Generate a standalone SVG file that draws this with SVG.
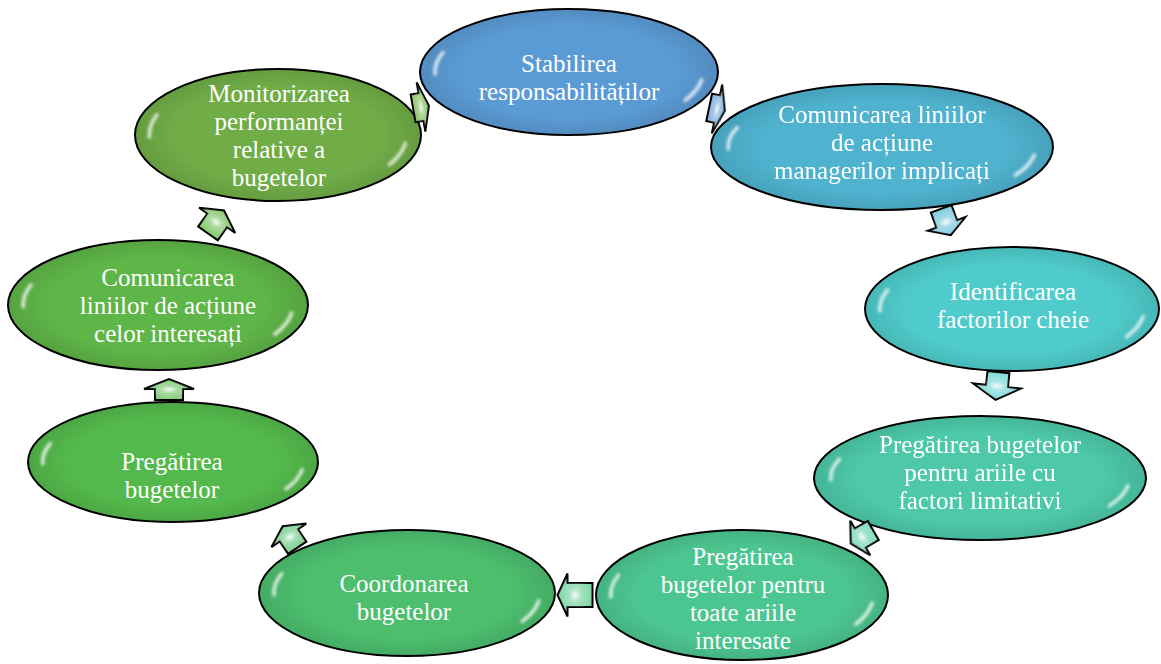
<svg xmlns="http://www.w3.org/2000/svg" width="1161" height="664" viewBox="0 0 1161 664">
<defs>
<style>
.ell{stroke:#000;stroke-width:2}
.shade{fill:url(#shade)}
.hl{fill:none;stroke:#fff;stroke-width:3.5;stroke-linecap:round;opacity:0.8}
.txt{font-family:"Liberation Serif","Times New Roman",serif;font-size:25px;fill:#fff;text-anchor:middle}
.arr{stroke:#000;stroke-width:2;stroke-linejoin:miter}
.arrhl{fill:url(#arrglow);stroke:none}
</style>
<radialGradient id="shade" cx="0.5" cy="0.5" r="0.5">
<stop offset="0.72" stop-color="#000" stop-opacity="0"/>
<stop offset="1" stop-color="#000" stop-opacity="0.1"/>
</radialGradient>
<radialGradient id="arrglow" cx="0.5" cy="0.5" r="0.5">
<stop offset="0" stop-color="#fff" stop-opacity="0.9"/>
<stop offset="0.35" stop-color="#fff" stop-opacity="0.3"/>
<stop offset="1" stop-color="#fff" stop-opacity="0"/>
</radialGradient>
<filter id="blur" x="-20%" y="-20%" width="140%" height="140%"><feGaussianBlur stdDeviation="1.4"/></filter>
<g id="hls">
<path class="hl" vector-effect="non-scaling-stroke" d="M -0.899 0.031 A 0.9 0.9 0 0 1 -0.846 -0.308"/>
<path class="hl" vector-effect="non-scaling-stroke" d="M 0.891 0.125 A 0.9 0.9 0 0 1 0.779 0.450"/>
</g>
</defs>
<rect width="1161" height="664" fill="#fff"/>

<g id="node1" transform="translate(569,72)">
<ellipse class="ell" rx="149" ry="63" fill="#5B9BD5"/>
<ellipse class="shade" rx="149" ry="63"/>
<g filter="url(#blur)"><use href="#hls" transform="scale(149,63)"/></g>
</g>
<text class="txt" x="569" y="72">Stabilirea</text>
<text class="txt" x="569" y="100">responsabilităților</text>

<g id="node2" transform="translate(882,147)">
<ellipse class="ell" rx="171" ry="63" fill="#4FB3CF"/>
<ellipse class="shade" rx="171" ry="63"/>
<g filter="url(#blur)"><use href="#hls" transform="scale(171,63)"/></g>
</g>
<text class="txt" x="882" y="123">Comunicarea liniilor</text>
<text class="txt" x="882" y="151">de acțiune</text>
<text class="txt" x="882" y="179">managerilor implicați</text>

<g id="node3" transform="translate(1012,309)">
<ellipse class="ell" rx="147" ry="62" fill="#4FCBCB"/>
<ellipse class="shade" rx="147" ry="62"/>
<g filter="url(#blur)"><use href="#hls" transform="scale(147,62)"/></g>
</g>
<text class="txt" x="1013" y="300">Identificarea</text>
<text class="txt" x="1013" y="328">factorilor cheie</text>

<g id="node4" transform="translate(980,478)">
<ellipse class="ell" rx="166" ry="62" fill="#4DC9A9"/>
<ellipse class="shade" rx="166" ry="62"/>
<g filter="url(#blur)"><use href="#hls" transform="scale(166,62)"/></g>
</g>
<text class="txt" x="980" y="453">Pregătirea bugetelor</text>
<text class="txt" x="980" y="481">pentru ariile cu</text>
<text class="txt" x="980" y="509">factori limitativi</text>

<g id="node5" transform="translate(742,595)">
<ellipse class="ell" rx="146" ry="65" fill="#4CC690"/>
<ellipse class="shade" rx="146" ry="65"/>
<g filter="url(#blur)"><use href="#hls" transform="scale(146,65)"/></g>
</g>
<text class="txt" x="743" y="565">Pregătirea</text>
<text class="txt" x="743" y="593">bugetelor pentru</text>
<text class="txt" x="743" y="621">toate ariile</text>
<text class="txt" x="743" y="649">interesate</text>

<g id="node6" transform="translate(407,593)">
<ellipse class="ell" rx="148" ry="63" fill="#4CBE6E"/>
<ellipse class="shade" rx="148" ry="63"/>
<g filter="url(#blur)"><use href="#hls" transform="scale(148,63)"/></g>
</g>
<text class="txt" x="404" y="592">Coordonarea</text>
<text class="txt" x="404" y="620">bugetelor</text>

<g id="node7" transform="translate(173,462)">
<ellipse class="ell" rx="145" ry="60" fill="#54B94C"/>
<ellipse class="shade" rx="145" ry="60"/>
<g filter="url(#blur)"><use href="#hls" transform="scale(145,60)"/></g>
</g>
<text class="txt" x="172" y="470">Pregătirea</text>
<text class="txt" x="172" y="498">bugetelor</text>

<g id="node8" transform="translate(158,305)">
<ellipse class="ell" rx="150" ry="65" fill="#5EB548"/>
<ellipse class="shade" rx="150" ry="65"/>
<g filter="url(#blur)"><use href="#hls" transform="scale(150,65)"/></g>
</g>
<text class="txt" x="168" y="286">Comunicarea</text>
<text class="txt" x="168" y="314">liniilor de acțiune</text>
<text class="txt" x="168" y="342">celor interesați</text>

<g id="node9" transform="translate(278,135)">
<ellipse class="ell" rx="143" ry="66" fill="#70AD47"/>
<ellipse class="shade" rx="143" ry="66"/>
<g filter="url(#blur)"><use href="#hls" transform="scale(143,66)"/></g>
</g>
<text class="txt" x="279" y="102">Monitorizarea</text>
<text class="txt" x="279" y="130">performanței</text>
<text class="txt" x="279" y="158">relative a</text>
<text class="txt" x="279" y="186">bugetelor</text>

<g id="connectors">
<g transform="translate(421,107) rotate(-10)">
<path class="arr" fill="#8DC46B" d="M-8,-14 L0,-14 L0,-25 L8,0 L0,25 L0,14 L-8,14 Z"/>
<path class="arrhl" d="M-8,-14 L0,-14 L0,-25 L8,0 L0,25 L0,14 L-8,14 Z"/>
</g>
<g transform="translate(717,109) rotate(12)">
<path class="arr" fill="#84B3E0" d="M-8,-14 L0,-14 L0,-25 L8,0 L0,25 L0,14 L-8,14 Z"/>
<path class="arrhl" d="M-8,-14 L0,-14 L0,-25 L8,0 L0,25 L0,14 L-8,14 Z"/>
</g>
<g transform="translate(946,222) rotate(70)">
<path class="arr" fill="#80CCE0" d="M-14,-11 L2,-11 L2,-20 L14,0 L2,20 L2,11 L-14,11 Z"/>
<path class="arrhl" d="M-14,-11 L2,-11 L2,-20 L14,0 L2,20 L2,11 L-14,11 Z"/>
</g>
<g transform="translate(997,386) rotate(96)">
<path class="arr" fill="#80DADA" d="M-14,-11 L0,-11 L0,-24 L14,0 L0,24 L0,11 L-14,11 Z"/>
<path class="arrhl" d="M-14,-11 L0,-11 L0,-24 L14,0 L0,24 L0,11 L-14,11 Z"/>
</g>
<g transform="translate(862,537) rotate(150)">
<path class="arr" fill="#7FD8BE" d="M-13,-11 L2,-11 L2,-20 L13,0 L2,20 L2,11 L-13,11 Z"/>
<path class="arrhl" d="M-13,-11 L2,-11 L2,-20 L13,0 L2,20 L2,11 L-13,11 Z"/>
</g>
<g transform="translate(575,595) rotate(180)">
<path class="arr" fill="#7ED6A6" d="M-17.5,-12 L7.5,-12 L7.5,-21.5 L17.5,0 L7.5,21.5 L7.5,12 L-17.5,12 Z"/>
<path class="arrhl" d="M-17.5,-12 L7.5,-12 L7.5,-21.5 L17.5,0 L7.5,21.5 L7.5,12 L-17.5,12 Z"/>
</g>
<g transform="translate(290,537) rotate(-124)">
<path class="arr" fill="#7ED091" d="M-13,-11 L2,-11 L2,-21 L13,0 L2,21 L2,11 L-13,11 Z"/>
<path class="arrhl" d="M-13,-11 L2,-11 L2,-21 L13,0 L2,21 L2,11 L-13,11 Z"/>
</g>
<g transform="translate(169,390) rotate(-90)">
<path class="arr" fill="#83CC7A" d="M-10,-14 L1,-14 L1,-25 L11,0 L1,25 L1,14 L-10,14 Z"/>
<path class="arrhl" d="M-10,-14 L1,-14 L1,-25 L11,0 L1,25 L1,14 L-10,14 Z"/>
</g>
<g transform="translate(216,222) rotate(-55)">
<path class="arr" fill="#86C86D" d="M-14,-12 L2,-12 L2,-22 L14,0 L2,22 L2,12 L-14,12 Z"/>
<path class="arrhl" d="M-14,-12 L2,-12 L2,-22 L14,0 L2,22 L2,12 L-14,12 Z"/>
</g>
</g>
</svg>
